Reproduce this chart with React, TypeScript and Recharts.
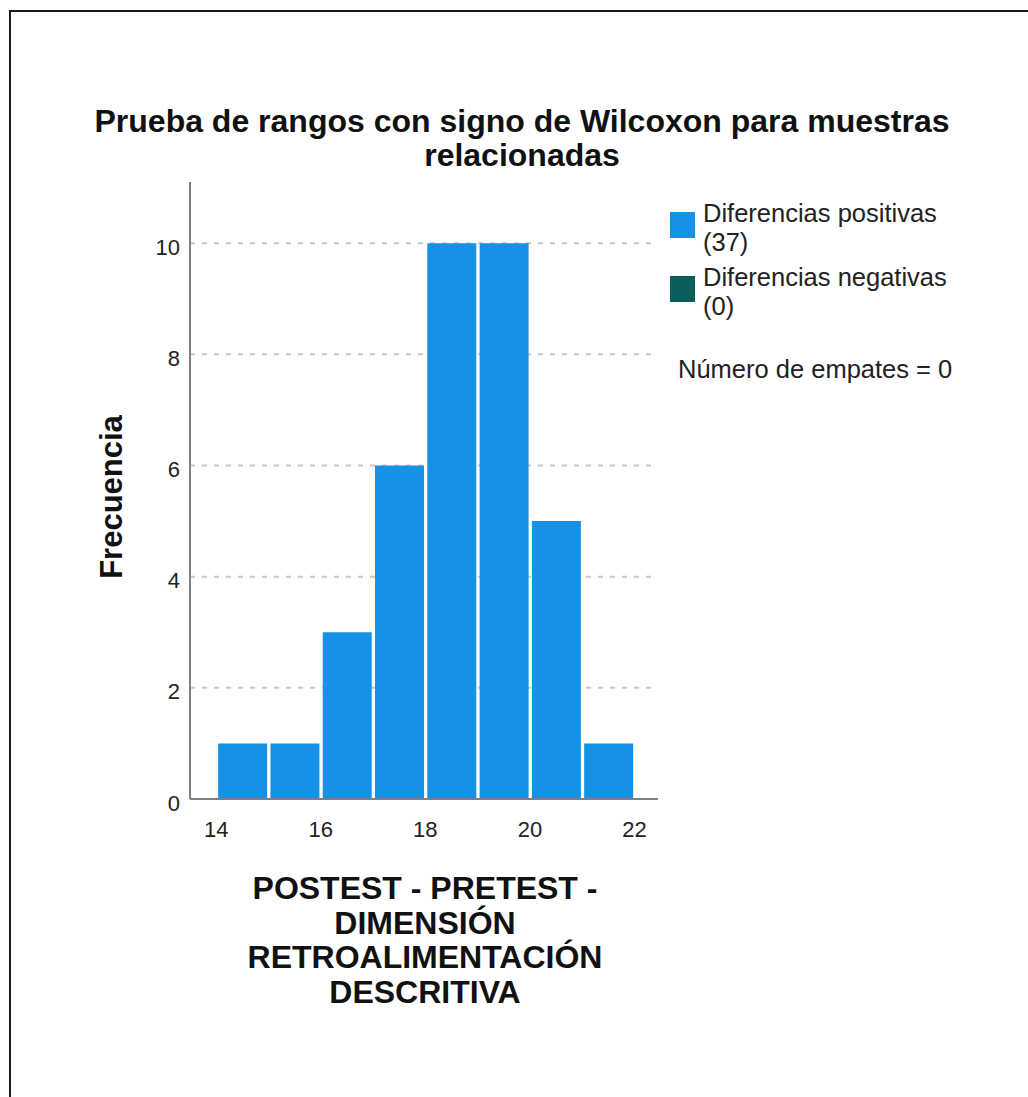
import { Bar, BarChart, CartesianGrid, XAxis, YAxis } from "recharts";

const binMids = [14.5, 15.5, 16.5, 17.5, 18.5, 19.5, 20.5, 21.5];
const positiveCounts = [1, 1, 3, 6, 10, 10, 5, 1];
const negativeCounts = [0, 0, 0, 0, 0, 0, 0, 0];
const xTicks = [14, 16, 18, 20, 22];
const yTicks = [0, 2, 4, 6, 8, 10];
const gridValues = [2, 4, 6, 8, 10];

const data = binMids.map((mid, i) => ({
  mid,
  pos: positiveCounts[i],
  neg: negativeCounts[i],
}));

const font = "'Liberation Sans', Arial, sans-serif";
const blue = "#1591e6";
const teal = "#0a5f5c";

const YTick = (props: any) => {
  const { x, y, payload } = props;
  return (
    <text x={x - 2} y={y + 4} textAnchor="end" dominantBaseline="central" fontSize={22} fill="#222" fontFamily={font}>
      {payload.value}
    </text>
  );
};

const XTick = (props: any) => {
  const { x, y, payload } = props;
  return (
    <text x={x} y={y + 22} textAnchor="middle" dominantBaseline="central" fontSize={22} fill="#222" fontFamily={font}>
      {payload.value}
    </text>
  );
};

const abs = (style: React.CSSProperties): React.CSSProperties => ({ position: "absolute", fontFamily: font, color: "#111", ...style });

export default function App() {
  return (
    <div style={{ position: "absolute", left: 0, top: 0, width: 1028, height: 1097, overflow: "hidden", background: "#fff" }}>
      <div style={{ position: "absolute", left: 9, top: 10, width: 1100, height: 1200, borderLeft: "2px solid #1a1a1a", borderTop: "2px solid #1a1a1a" }} />

      <BarChart
        width={1028}
        height={1097}
        data={data}
        margin={{ top: 182, right: 370, bottom: 268, left: 130 }}
        style={{ position: "absolute", left: 0, top: 0 }}
      >
        <CartesianGrid
          vertical={false}
          horizontalValues={gridValues}
          stroke="#c8c8c8"
          strokeWidth={2}
          strokeDasharray="5 7"
        />
        <XAxis
          dataKey="mid"
          type="number"
          domain={[13.5, 22.45]}
          ticks={xTicks}
          tickLine={false}
          axisLine={{ stroke: "#808080", strokeWidth: 2 }}
          tick={<XTick />}
          height={30}
          allowDataOverflow
        />
        <YAxis
          type="number"
          domain={[0, 11.1]}
          ticks={yTicks}
          tickLine={false}
          axisLine={{ stroke: "#808080", strokeWidth: 2 }}
          tick={<YTick />}
          width={60}
          allowDataOverflow
        />
        <Bar dataKey="pos" stackId="s" fill={blue} barSize={49} isAnimationActive={false} />
        <Bar dataKey="neg" stackId="s" fill={teal} barSize={49} isAnimationActive={false} />
      </BarChart>

      <div style={abs({ left: 0, top: 104, width: 1044, textAlign: "center", fontSize: 32, fontWeight: 700, lineHeight: "34px" })}>
        Prueba de rangos con signo de Wilcoxon para muestras
        <br />
        relacionadas
      </div>

      <div
        style={abs({
          left: 112,
          top: 497,
          fontSize: 31,
          fontWeight: 700,
          whiteSpace: "nowrap",
          transform: "translate(-50%, -50%) rotate(-90deg)",
        })}
      >
        Frecuencia
      </div>

      <div style={abs({ left: 125, top: 871, width: 600, textAlign: "center", fontSize: 32, fontWeight: 700, lineHeight: "34.7px" })}>
        POSTEST - PRETEST -
        <br />
        DIMENSIÓN
        <br />
        RETROALIMENTACIÓN
        <br />
        DESCRITIVA
      </div>

      <div style={abs({ left: 670, top: 212, width: 25, height: 26, background: blue })} />
      <div style={abs({ left: 670, top: 276, width: 25, height: 26, background: teal })} />
      <div style={abs({ left: 703, top: 199, fontSize: 25.5, lineHeight: "29px", whiteSpace: "nowrap", color: "#222" })}>
        Diferencias positivas
        <br />
        (37)
      </div>
      <div style={abs({ left: 703, top: 263, fontSize: 25.5, lineHeight: "29px", whiteSpace: "nowrap", color: "#222" })}>
        Diferencias negativas
        <br />
        (0)
      </div>
      <div style={abs({ left: 678, top: 355, fontSize: 25.5, lineHeight: "29px", whiteSpace: "nowrap", color: "#222" })}>
        Número de empates = 0
      </div>
    </div>
  );
}
